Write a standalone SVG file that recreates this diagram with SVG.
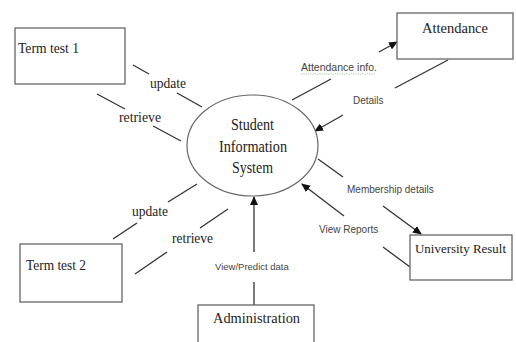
<svg xmlns="http://www.w3.org/2000/svg" width="516" height="342" viewBox="0 0 516 342">
<style>
.box{fill:#fff;stroke:#666;stroke-width:1.3}
.ell{fill:#fff;stroke:#666;stroke-width:1.2}
.t{font-family:"Liberation Serif","Times New Roman",serif;font-size:15px;fill:#222}
.et{font-family:"Liberation Serif","Times New Roman",serif;font-size:16px;fill:#222}
.s{font-family:"Liberation Serif","Times New Roman",serif;font-size:14px;fill:#222}
.l{font-family:"Liberation Sans",Arial,sans-serif;font-size:10px;fill:#444}
.c line{stroke:#333;stroke-width:1.3}
.a{marker-end:url(#ah)}
</style>
<defs>
<marker id="ah" markerUnits="userSpaceOnUse" markerWidth="9" markerHeight="8" refX="8" refY="4" orient="auto">
<path d="M0,0 L9,4 L0,8 z" fill="#111"/>
</marker>
</defs>
<rect width="516" height="342" fill="#fff"/>
<g id="connectors" class="c">
<line x1="133" y1="65" x2="149" y2="74"/>
<line x1="177" y1="93" x2="202" y2="107"/>
<line x1="97" y1="94" x2="125" y2="109"/>
<line x1="153" y1="126" x2="181" y2="141"/>
<line x1="113" y1="239" x2="137" y2="223"/>
<line x1="168" y1="202" x2="197" y2="184"/>
<line x1="135" y1="274" x2="167" y2="252"/>
<line x1="200" y1="228" x2="228" y2="209"/>
<line x1="292" y1="100" x2="331" y2="79"/>
<line class="a" x1="379" y1="52" x2="397" y2="42"/>
<line x1="448" y1="60" x2="395" y2="88"/>
<line class="a" x1="343" y1="115" x2="315" y2="131"/>
<line x1="318" y1="159" x2="343" y2="177"/>
<line class="a" x1="383" y1="206" x2="421" y2="234"/>
<line x1="410" y1="267" x2="383" y2="247"/>
<line class="a" x1="344" y1="216" x2="302" y2="184"/>
<line x1="254" y1="305" x2="254" y2="282"/>
<line class="a" x1="254" y1="252" x2="254" y2="197"/>
<text class="s" x="150" y="88" textLength="36" lengthAdjust="spacingAndGlyphs">update</text>
<text class="s" x="119" y="122" textLength="42" lengthAdjust="spacingAndGlyphs">retrieve</text>
<text class="s" x="132" y="216" textLength="36" lengthAdjust="spacingAndGlyphs">update</text>
<text class="s" x="172" y="243" textLength="41" lengthAdjust="spacingAndGlyphs">retrieve</text>
<text class="l" x="301" y="71" style="font-size:10.5px">Attendance info.</text>
<path d="M301,74.5 l2,-1 l2,1 l2,-1 l2,1 l2,-1 l2,1 l2,-1 l2,1 l2,-1 l2,1 l2,-1 l2,1 l2,-1 l2,1 l2,-1 l2,1 l2,-1 l2,1 l2,-1 l2,1 l2,-1 l2,1 l2,-1 l2,1 l2,-1 l2,1 l2,-1 l2,1 l2,-1 l2,1 l2,-1 l2,1 l2,-1 l2,1 l2,-1 l2,1 l2,-1" fill="none" stroke="#7ab87a" stroke-width="0.8" stroke-dasharray="1,1"/>
<text class="l" x="353" y="104">Details</text>
<text class="l" x="347" y="193">Membership details</text>
<text class="l" x="319" y="233">View Reports</text>
<text class="l" x="215" y="270" style="font-size:9.5px">View/Predict data</text>
</g>
<g id="term-test-1">
<rect class="box" x="15" y="28" width="110" height="56"/>
<text class="t" x="18" y="53" textLength="61" lengthAdjust="spacingAndGlyphs">Term test 1</text>
</g>
<g id="attendance">
<rect class="box" x="397" y="13" width="116" height="46"/>
<text class="t" x="422" y="33" textLength="66" lengthAdjust="spacingAndGlyphs">Attendance</text>
</g>
<g id="sis">
<ellipse class="ell" cx="252.5" cy="145.5" rx="65.5" ry="50.5"/>
<text class="et" x="231" y="130" textLength="43" lengthAdjust="spacingAndGlyphs">Student</text>
<text class="et" x="219" y="152" textLength="68" lengthAdjust="spacingAndGlyphs">Information</text>
<text class="et" x="232" y="173" textLength="41" lengthAdjust="spacingAndGlyphs">System</text>
</g>
<g id="university-result">
<rect class="box" x="410" y="235" width="102" height="45"/>
<text class="t" x="415" y="253" style="font-size:13px" textLength="91" lengthAdjust="spacingAndGlyphs">University Result</text>
</g>
<g id="term-test-2">
<rect class="box" x="20" y="244" width="102" height="58"/>
<text class="t" x="26" y="270" textLength="60" lengthAdjust="spacingAndGlyphs">Term test 2</text>
</g>
<g id="administration">
<rect class="box" x="198" y="305" width="116" height="45"/>
<text class="t" x="213" y="323" textLength="87" lengthAdjust="spacingAndGlyphs">Administration</text>
</g>
</svg>
